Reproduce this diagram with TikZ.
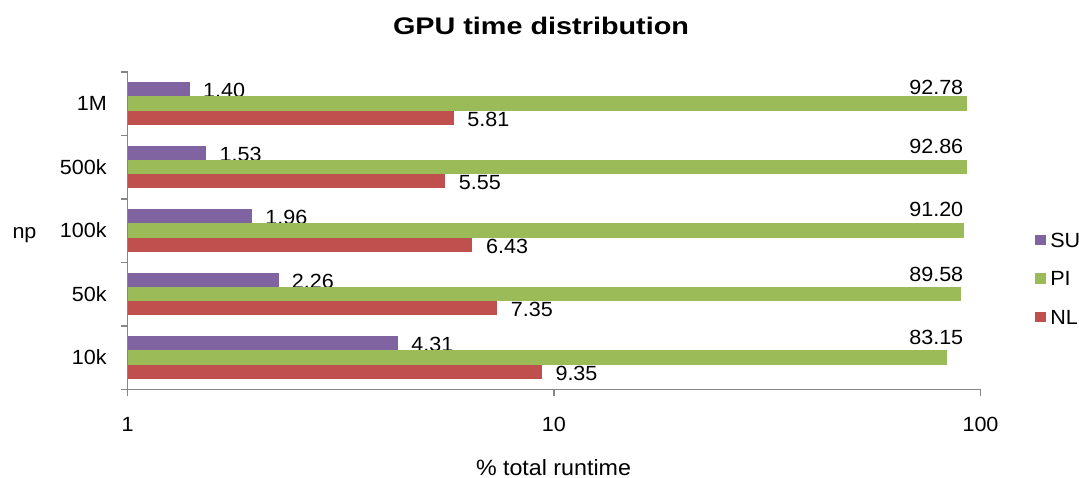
\documentclass[tikz,border=0pt]{standalone}
\usepackage{fontspec}
\setmainfont{Liberation Sans}[FakeStretch=1.05]
\newfontfamily\headfont{Liberation Sans}[FakeStretch=1.2]
\definecolor{suc}{HTML}{8064A2}
\definecolor{pic}{HTML}{9BBB59}
\definecolor{nlc}{HTML}{C0504D}
\definecolor{axisc}{HTML}{868686}
\tikzset{
  lbl/.style={inner sep=0pt, text=black, font=\fontsize{15.4}{18}\selectfont},
  axisline/.style={draw=axisc, line width=1.1pt},
  titlefont/.style={inner sep=0pt, text=black, font=\headfont\bfseries\fontsize{18}{22}\selectfont},
  axtitle/.style={inner sep=0pt, text=black, font=\fontsize{16.6}{20}\selectfont}
}
\begin{document}
\begin{tikzpicture}[x=0.75pt,y=-0.75pt]
\useasboundingbox (0,0) rectangle (1079,478);
\fill[white] (0,0) rectangle (1079,478);

% title
\node[titlefont, anchor=base] (title) at (541,34.3) {GPU time distribution};

% one group of three bars per problem size (top to bottom)
\foreach \name/\vs/\vp/\vn/\gap [count=\i from 0] in
  {1M/1.40/92.78/5.81/1.7, 500k/1.53/92.86/5.55/6, 100k/1.96/91.20/6.43/7,
   50k/2.26/89.58/7.35/5, 10k/4.31/83.15/9.35/6}{
  \pgfmathsetmacro\t{72+63.5*\i}
  \pgfmathsetmacro\xs{127.5+426.7*log10(\vs)}
  \pgfmathsetmacro\xp{127.5+426.7*log10(\vp)}
  \pgfmathsetmacro\xn{127.5+426.7*log10(\vn)}
  % value labels (drawn first, the bars sit on top of them)
  \node[lbl, anchor=base west] (su\i) at (\xs+13,\t+25.6) {\vs};
  \node[lbl, anchor=base east] (pi\i) at (963.5,\t+24.4-\gap) {\vp};
  \node[lbl, anchor=base west] (nl\i) at (\xn+13.5,\t+54.3) {\vn};
  % bars
  \fill[suc] (127.5,\t+10.2) rectangle (\xs,\t+24.4);
  \fill[pic] (127.5,\t+24.4) rectangle (\xp,\t+38.6);
  \fill[nlc] (127.5,\t+38.6) rectangle (\xn,\t+52.8);
  % category label
  \node[lbl, anchor=base east] (cat\i) at (107,\t+38.8) {\name};
}

% axes
\draw[axisline] (127.5,72) -- (127.5,395.5);
\draw[axisline] (127.5,389.5) -- (980.5,389.5);
\foreach \k in {0,...,5}{
  \draw[axisline] (121,72+63.5*\k) -- (127.5,72+63.5*\k);
}
\draw[axisline] (553.8,389.5) -- (553.8,395.5);
\draw[axisline] (980.5,389.5) -- (980.5,395.5);

% tick labels
\node[lbl, anchor=base] (tick1) at (127.5,431.3) {1};
\node[lbl, anchor=base] (tick10) at (553.8,431.3) {10};
\node[lbl, anchor=base] (tick100) at (980.5,431.3) {100};

% axis titles
\node[axtitle, anchor=base] (xlab) at (553.5,475) {\% total runtime};
\node[lbl, anchor=base] (ylab) at (24.5,238.3) {np};

% legend
\fill[suc] (1035,234.8) rectangle (1045.5,245.3);
\fill[pic] (1035,273.3) rectangle (1045.5,283.8);
\fill[nlc] (1035,311.8) rectangle (1045.5,322.3);
\node[lbl, anchor=base west] (legSU) at (1050,247) {SU};
\node[lbl, anchor=base west] (legPI) at (1050,285.5) {PI};
\node[lbl, anchor=base west] (legNL) at (1050,324) {NL};
\end{tikzpicture}
\end{document}
